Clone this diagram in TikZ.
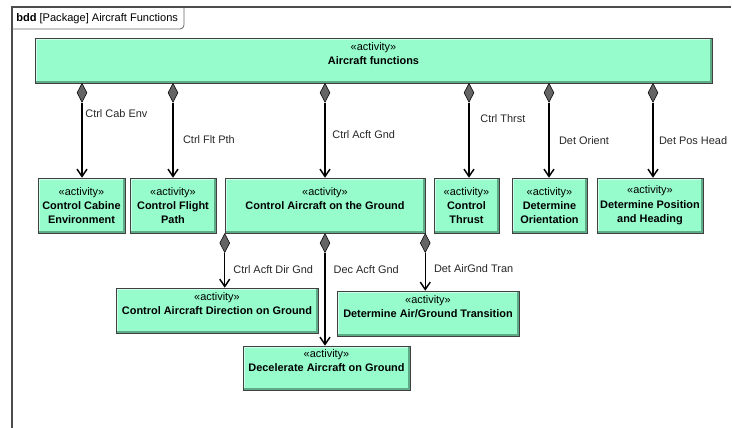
\documentclass[tikz,border=0pt]{standalone}
\usepackage{fontspec}
\setmainfont{Liberation Sans}
\usetikzlibrary{shapes.geometric,arrows.meta}

\definecolor{actfill}{RGB}{150,252,204}
\definecolor{actlight}{RGB}{205,255,232}
\definecolor{actdark}{RGB}{95,170,135}
\definecolor{diagray}{RGB}{100,100,100}

\tikzset{
  actbox/.style={draw=black!75, fill=actfill, align=center, inner sep=0pt,
    font=\fontsize{8.2}{10.8}\selectfont,
    path picture={
      \draw[actlight, line width=1.4pt]
        ([xshift=0.7pt,yshift=0.7pt]path picture bounding box.south west) |-
        ([xshift=-0.7pt,yshift=-0.7pt]path picture bounding box.north east);
      \draw[actdark, line width=1.4pt]
        ([xshift=0.7pt,yshift=0.7pt]path picture bounding box.south west) -|
        ([xshift=-0.7pt,yshift=-0.7pt]path picture bounding box.north east);
    }},
  agg/.style={diamond, draw=black, fill=diagray, minimum width=7.5pt,
    minimum height=14.25pt, inner sep=0pt, anchor=north},
  comp/.style={line width=1.1pt, -{Straight Barb[length=5.5pt,width=7.5pt]}},
  rolename/.style={font=\fontsize{8.2}{9.5}\selectfont, text=black!85,
    anchor=west, inner sep=0pt}
}

\begin{document}
\begin{tikzpicture}[x=0.75pt,y=-0.75pt]

\useasboundingbox (0,0) rectangle (732,428);

% Draw the frame and its tab
\draw[black!70, line width=0.9pt] (12,428) -- (12,7) -- (731,7);
\draw[black!60, line width=0.6pt] (12,29) -- (180,29) to[out=0,in=-90] (184,25) -- (184,7);
\node[anchor=west, inner sep=0pt, font=\fontsize{8.3}{9.5}\selectfont] (title) at (16,19)
  {\textbf{bdd} [Package] Aircraft Functions};

% Draw the activities
\node[actbox, minimum width=507.75pt, minimum height=33.75pt] (acft) at (373.5,60.5)
  {«activity»\\\textbf{Aircraft functions}\\~};

\node[actbox, minimum width=65.25pt, minimum height=41.25pt] (cab) at (81.5,205.5)
  {«activity»\\\textbf{Control Cabine}\\\textbf{Environment}};
\node[actbox, minimum width=64.5pt, minimum height=41.25pt] (flt) at (173,205.5)
  {«activity»\\\textbf{Control Flight}\\\textbf{Path}};
\node[actbox, minimum width=150pt, minimum height=41.25pt] (gnd) at (325,205.5)
  {«activity»\\\textbf{Control Aircraft on the Ground}\\~};
\node[actbox, minimum width=48.75pt, minimum height=41.25pt] (thr) at (466.5,205.5)
  {«activity»\\\textbf{Control}\\\textbf{Thrust}};
\node[actbox, minimum width=56.25pt, minimum height=41.25pt] (ori) at (549.5,205.5)
  {«activity»\\\textbf{Determine}\\\textbf{Orientation}};
\node[actbox, minimum width=79.5pt, minimum height=41.25pt] (pos) at (650,205.5)
  {«activity»\\\textbf{Determine Position}\\\textbf{and Heading}};

\node[actbox, minimum width=151.5pt, minimum height=33.75pt] (dir) at (217,310.5)
  {«activity»\\\textbf{Control Aircraft Direction on Ground}\\~};
\node[actbox, minimum width=125.25pt, minimum height=33pt] (dec) at (326.5,368)
  {«activity»\\\textbf{Decelerate Aircraft on Ground}\\~};
\node[actbox, minimum width=136.5pt, minimum height=33.75pt] (trn) at (428,313.5)
  {«activity»\\\textbf{Determine Air/Ground Transition}\\~};

% Draw the composition ends
\node[agg] (aCab) at (82,83) {};
\node[agg] (aFlt) at (173,83) {};
\node[agg] (aGnd) at (325,83) {};
\node[agg] (aThr) at (469,83) {};
\node[agg] (aOri) at (549,83) {};
\node[agg] (aPos) at (653,83) {};

\node[agg] (aDir) at (gnd.south west) {};
\node[agg] (aDec) at (gnd.south) {};
\node[agg] (aTrn) at (gnd.south east) {};

% Draw the compositions
\draw[comp] (aCab.south) -- node[rolename, pos=0.15, xshift=2pt] {Ctrl Cab Env} (aCab.south |- cab.north);
\draw[comp] (aFlt.south) -- node[rolename, pos=0.49, xshift=7pt] {Ctrl Flt Pth} (aFlt.south |- flt.north);
\draw[comp] (aGnd.south) -- node[rolename, pos=0.42, xshift=5pt] {Ctrl Acft Gnd} (aGnd.south |- gnd.north);
\draw[comp] (aThr.south) -- node[rolename, pos=0.21, xshift=8pt] {Ctrl Thrst} (aThr.south |- thr.north);
\draw[comp] (aOri.south) -- node[rolename, pos=0.51, xshift=7pt] {Det Orient} (aOri.south |- ori.north);
\draw[comp] (aPos.south) -- node[rolename, pos=0.51, xshift=4pt] {Det Pos Head} (aPos.south |- pos.north);

\draw[comp] (aDir.south) -- node[rolename, pos=0.47, xshift=6pt] {Ctrl Acft Dir Gnd} (aDir.south |- dir.north);
\draw[comp] (aDec.south) -- node[rolename, pos=0.18, xshift=6pt] {Dec Acft Gnd} (aDec.south |- dec.north);
\draw[comp] (aTrn.south) -- node[rolename, pos=0.41, xshift=6pt] {Det AirGnd Tran} (aTrn.south |- trn.north);

\end{tikzpicture}
\end{document}
